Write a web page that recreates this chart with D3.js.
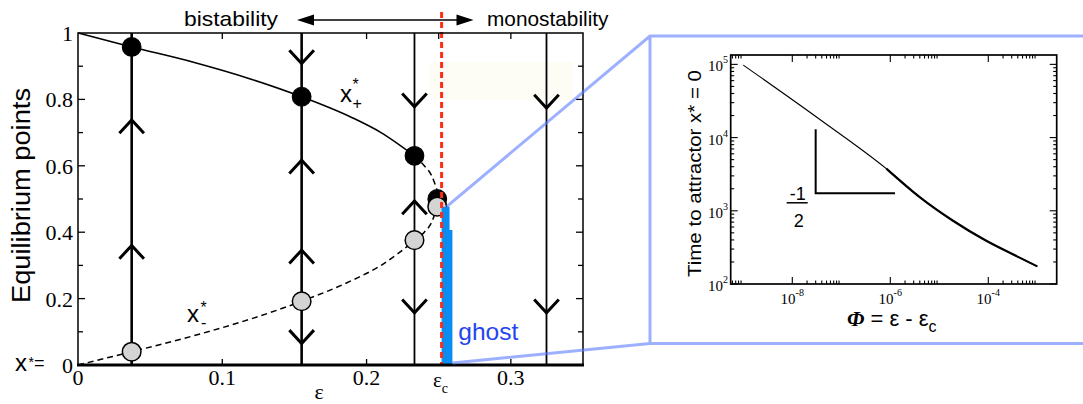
<!DOCTYPE html>
<html>
<head>
<meta charset="utf-8">
<script src="https://cdn.jsdelivr.net/npm/d3@7"></script>
<style>
  body { margin: 0; background: #fff; }
  svg { display: block; }
</style>
</head>
<body>
<div id="chart"></div>
<script>
// ---- values ----
// main panel: stable branch x*+ (solid, then dashed near the fold) and unstable branch x*-
var upperEps = [0, 0.0372, 0.08, 0.12, 0.155, 0.19, 0.21, 0.2332];
var upperX = [1, 0.958, 0.912, 0.861, 0.808, 0.745, 0.70, 0.63];
var upperDashEps = [0.2332, 0.24, 0.245, 0.249];
var upperDashX = [0.63, 0.60, 0.571, 0.525];
var lowerEps = [0, 0.0372, 0.08, 0.12, 0.155, 0.19, 0.21, 0.2332, 0.24, 0.245, 0.249];
var lowerX = [0, 0.04, 0.088, 0.139, 0.192, 0.255, 0.30, 0.375, 0.40, 0.429, 0.477];

// vertical flow lines and the arrows on them
var flowEps = [0.0372, 0.155, 0.2332, 0.3247];
var arrowEps = [0.0372, 0.0372, 0.155, 0.155, 0.155, 0.155, 0.2332, 0.2332, 0.2332, 0.3247, 0.3247];
var arrowX = [0.738, 0.36, 0.908, 0.617, 0.346, 0.065, 0.778, 0.494, 0.157, 0.774, 0.157];
var arrowDir = ["up", "up", "down", "up", "up", "down", "down", "up", "down", "down", "down"];

// equilibrium points
var stableEps = [0.0372, 0.155, 0.2332, 0.249];
var stableX = [0.958, 0.808, 0.63, 0.50];
var unstableEps = [0.0372, 0.155, 0.2332, 0.249];
var unstableX = [0.04, 0.192, 0.376, 0.477];

// critical value and ghost bar
var epsC = 0.252;
var ghostEps = [0.252, 0.2575, 0.2595];
var ghostTop = [0.477, 0.407];

// main axes
var xTicks = [0, 0.1, 0.2, 0.3];
var xTickLabels = ["0", "0.1", "0.2", "0.3"];
var xTopTicks = [0.1, 0.2, 0.25, 0.3];
var yTicks = [0, 0.2, 0.4, 0.6, 0.8, 1];
var yTickLabels = ["0", "0.2", "0.4", "0.6", "0.8", "1"];
var yMinorTicks = [0.1, 0.3, 0.5, 0.7, 0.9];

// inset: time to reach x* = 0 vs phi = eps - eps_c
var phi = [1e-9, 3.66e-8, 8.3e-7, 3.98e-6, 1.87e-5, 8.9e-5, 4.25e-4, 1e-3];
var tAttr = [97700, 17660, 3760, 1535, 736, 392, 231, 174];
var insetXTicks = [1e-8, 1e-6, 1e-4];
var insetXExp = ["-8", "-6", "-4"];
var insetYTicks = [1e2, 1e3, 1e4, 1e5];
var insetYExp = ["2", "3", "4", "5"];
var slopePhi = [3.0e-8, 1.25e-6];
var slopeT = [12970, 1734];

// ---- drawing ----
var width = 1083;
var height = 404;
var sans = "'Liberation Sans', Arial, sans-serif";
var serif = "'Liberation Serif', 'Times New Roman', serif";

var svg = d3.select("#chart")
  .append("svg")
    .attr("width", width)
    .attr("height", height)
    .style("font-family", sans);

var x = d3.scaleLinear().domain([0, 0.35]).range([78, 583]);
var y = d3.scaleLinear().domain([0, 1]).range([365, 33]);

// faint highlight box
svg.append("rect")
  .attr("x", 430).attr("y", 62).attr("width", 143).attr("height", 38)
  .attr("fill", "#fdfdf6");

var line = d3.line()
  .x(function (d) { return x(d[0]); })
  .y(function (d) { return y(d[1]); })
  .curve(d3.curveMonotoneX);

svg.append("path")
  .datum(d3.zip(upperEps, upperX))
  .attr("d", line)
  .attr("fill", "none").attr("stroke", "#000").attr("stroke-width", 1.6);

svg.append("path")
  .datum(d3.zip(upperDashEps, upperDashX))
  .attr("d", line)
  .attr("fill", "none").attr("stroke", "#000").attr("stroke-width", 1.5)
  .attr("stroke-dasharray", "6,4");

svg.append("path")
  .datum(d3.zip(lowerEps, lowerX))
  .attr("d", line)
  .attr("fill", "none").attr("stroke", "#000").attr("stroke-width", 1.5)
  .attr("stroke-dasharray", "6,4");

// flow lines
svg.append("g")
  .selectAll("line")
  .data(flowEps)
  .enter()
  .append("line")
    .attr("x1", d => x(d)).attr("x2", d => x(d))
    .attr("y1", y(1)).attr("y2", y(0))
    .attr("stroke", "#000")
    .attr("stroke-width", (d, i) => i < 2 ? 2.6 : 1.8);

// chevrons
var arrows = d3.range(arrowEps.length).map(i => ({ e: arrowEps[i], v: arrowX[i], dir: arrowDir[i] }));
svg.append("g")
  .selectAll("path")
  .data(arrows)
  .enter()
  .append("path")
    .attr("d", function (d) {
      var cx = x(d.e), cy = y(d.v), s = d.dir === "up" ? 13.3 : -13.3;
      return "M" + (cx - 12.3) + "," + (cy + s) + "L" + cx + "," + cy + "L" + (cx + 12.3) + "," + (cy + s);
    })
    .attr("fill", "none").attr("stroke", "#000").attr("stroke-width", 3);

// equilibrium points
svg.append("g")
  .selectAll("circle")
  .data(d3.zip(stableEps, stableX))
  .enter()
  .append("circle")
    .attr("cx", d => x(d[0])).attr("cy", d => y(d[1])).attr("r", 9.3)
    .attr("fill", "#000").attr("stroke", "#000").attr("stroke-width", 1.2);

svg.append("g")
  .selectAll("circle")
  .data(d3.zip(unstableEps, unstableX))
  .enter()
  .append("circle")
    .attr("cx", d => x(d[0])).attr("cy", d => y(d[1])).attr("r", 9.3)
    .attr("fill", "#d4d4d4").attr("stroke", "#000").attr("stroke-width", 1.5);

// ghost bar
svg.append("path")
  .attr("d", "M" + x(ghostEps[0]) + "," + y(0) +
    "L" + x(ghostEps[0]) + "," + y(ghostTop[0]) +
    "L" + x(ghostEps[1]) + "," + y(ghostTop[0]) +
    "L" + x(ghostEps[1]) + "," + y(ghostTop[1]) +
    "L" + x(ghostEps[2]) + "," + y(ghostTop[1]) +
    "L" + x(ghostEps[2]) + "," + y(0) + "Z")
  .attr("fill", "#0a8df2");

// critical line
svg.append("line")
  .attr("x1", x(epsC)).attr("x2", x(epsC))
  .attr("y1", 12).attr("y2", y(0))
  .attr("stroke", "#ff2b14").attr("stroke-width", 3)
  .attr("stroke-dasharray", "6,4");

// frame
svg.append("path")
  .attr("d", "M" + x(0) + "," + y(0) + "V" + y(1) + "H" + x(0.35) + "V" + y(0))
  .attr("fill", "none").attr("stroke", "#000").attr("stroke-width", 1.5);
svg.append("line")
  .attr("x1", x(0) - 1).attr("x2", x(0.35) + 1)
  .attr("y1", y(0)).attr("y2", y(0))
  .attr("stroke", "#000").attr("stroke-width", 3.2);

// ticks
var tk = svg.append("g").attr("stroke", "#000").attr("stroke-width", 1.3);
yTicks.slice(1, -1).forEach(function (v) {
  tk.append("line").attr("x1", x(0)).attr("x2", x(0) + 7).attr("y1", y(v)).attr("y2", y(v));
  tk.append("line").attr("x1", x(0.35) - 7).attr("x2", x(0.35)).attr("y1", y(v)).attr("y2", y(v));
});
yMinorTicks.forEach(function (v) {
  tk.append("line").attr("x1", x(0)).attr("x2", x(0) + 5).attr("y1", y(v)).attr("y2", y(v));
  tk.append("line").attr("x1", x(0.35) - 5).attr("x2", x(0.35)).attr("y1", y(v)).attr("y2", y(v));
});
xTicks.slice(1).forEach(function (v) {
  tk.append("line").attr("x1", x(v)).attr("x2", x(v)).attr("y1", y(0)).attr("y2", y(0) - 6);
});
xTopTicks.forEach(function (v) {
  tk.append("line").attr("x1", x(v)).attr("x2", x(v)).attr("y1", y(1)).attr("y2", y(1) + 6);
});

// tick labels
svg.append("g")
  .selectAll("text")
  .data(yTicks)
  .enter()
  .append("text")
    .attr("x", 73).attr("y", d => y(d) + 8)
    .attr("text-anchor", "end")
    .style("font-family", serif).style("font-size", "22px")
    .text((d, i) => yTickLabels[i]);

svg.append("g")
  .selectAll("text")
  .data(xTicks)
  .enter()
  .append("text")
    .attr("x", d => x(d)).attr("y", 385)
    .attr("text-anchor", "middle")
    .style("font-family", serif).style("font-size", "22px")
    .text((d, i) => xTickLabels[i]);

var ec = svg.append("text")
  .attr("x", 433).attr("y", 387)
  .style("font-family", serif).style("font-size", "21px");
ec.append("tspan").text("ε");
ec.append("tspan").attr("dy", 6).style("font-size", "14px").text("c");

svg.append("text")
  .attr("x", 319).attr("y", 399).attr("text-anchor", "middle")
  .style("font-family", serif).style("font-size", "22px")
  .text("ε");

svg.append("text")
  .attr("transform", "translate(30,195.5) rotate(-90)")
  .attr("text-anchor", "middle")
  .attr("textLength", 215).attr("lengthAdjust", "spacingAndGlyphs")
  .style("font-size", "25px")
  .text("Equilibrium points");

// x* = 0 label
svg.append("text").attr("x", 15).attr("y", 370.7).style("font-size", "24px").text("x");
svg.append("text").attr("x", 28.5).attr("y", 367).style("font-size", "14px").text("*");
svg.append("text").attr("x", 34).attr("y", 369).style("font-size", "18px").text("=");

// branch labels
svg.append("text").attr("x", 340).attr("y", 101.7).style("font-size", "24px").text("x");
svg.append("text").attr("x", 352.5).attr("y", 89.5).style("font-size", "16px").text("*");
svg.append("text").attr("x", 352.5).attr("y", 109).style("font-size", "16px").text("+");
svg.append("text").attr("x", 187).attr("y", 321.7).style("font-size", "24px").text("x");
svg.append("text").attr("x", 200.5).attr("y", 313).style("font-size", "16px").text("*");
svg.append("text").attr("x", 201).attr("y", 328).style("font-size", "16px").text("-");

svg.append("text")
  .attr("x", 458.3).attr("y", 340)
  .attr("textLength", 60).attr("lengthAdjust", "spacingAndGlyphs")
  .style("font-size", "24px").attr("fill", "#1f45ee")
  .text("ghost");

// bistability / monostability header
svg.append("text")
  .attr("x", 184).attr("y", 26)
  .attr("textLength", 94).attr("lengthAdjust", "spacingAndGlyphs")
  .style("font-size", "21px").text("bistability");
svg.append("text")
  .attr("x", 487).attr("y", 26)
  .attr("textLength", 121.5).attr("lengthAdjust", "spacingAndGlyphs")
  .style("font-size", "21px").text("monostability");
svg.append("line")
  .attr("x1", 305).attr("x2", 465).attr("y1", 20).attr("y2", 20)
  .attr("stroke", "#000").attr("stroke-width", 1.6);
svg.append("path").attr("d", "M297,20L314,14.5L314,25.5Z").attr("fill", "#000");
svg.append("path").attr("d", "M473.5,20L456.5,14.5L456.5,25.5Z").attr("fill", "#000");

// ---- zoom box ----
var boxX = 650, boxTop = 36, boxBot = 343.5;
svg.append("path")
  .attr("d",
    "M" + x(0.2555) + "," + y(ghostTop[0]) + "L" + boxX + "," + boxTop + "L" + width + "," + boxTop +
    "M" + x(ghostEps[2]) + "," + (y(0) - 2) + "L" + boxX + "," + boxBot + "L" + width + "," + boxBot +
    "M" + boxX + "," + boxTop + "L" + boxX + "," + boxBot)
  .attr("fill", "none")
  .attr("stroke", "#5b7cff").attr("stroke-opacity", 0.6).attr("stroke-width", 3);

// ---- inset ----
var ix = d3.scaleLog().domain([Math.pow(10, -9.257), Math.pow(10, -2.604)]).range([730.7, 1056.7]);
var iy = d3.scaleLog().domain([100, Math.pow(10, 5.128)]).range([284, 55]);
var ix0 = 730.7, ix1 = 1056.7, iy0 = 284, iy1 = 55;

var itk = svg.append("g").attr("stroke", "#000").attr("stroke-width", 1.1);
ix.ticks().forEach(function (v) {
  var e = Math.floor(Math.log10(v) + 1e-9);
  if (e % 2 !== 0) return;
  var major = Math.abs(v / Math.pow(10, e) - 1) < 1e-6;
  var len = major ? 7 : 3.5;
  itk.append("line").attr("x1", ix(v)).attr("x2", ix(v)).attr("y1", iy0).attr("y2", iy0 - len);
  itk.append("line").attr("x1", ix(v)).attr("x2", ix(v)).attr("y1", iy1).attr("y2", iy1 + len);
});
iy.ticks().forEach(function (v) {
  var e = Math.floor(Math.log10(v) + 1e-9);
  var major = Math.abs(v / Math.pow(10, e) - 1) < 1e-6;
  var len = major ? 7 : 3.5;
  itk.append("line").attr("x1", ix0).attr("x2", ix0 + len).attr("y1", iy(v)).attr("y2", iy(v));
  itk.append("line").attr("x1", ix1 - len).attr("x2", ix1).attr("y1", iy(v)).attr("y2", iy(v));
});

svg.append("rect")
  .attr("x", ix0).attr("y", iy1).attr("width", ix1 - ix0).attr("height", iy0 - iy1)
  .attr("fill", "none").attr("stroke", "#000").attr("stroke-width", 1.7);

var iline = d3.line()
  .x(d => ix(d[0]))
  .y(d => iy(d[1]))
  .curve(d3.curveMonotoneX);
var ipts = d3.zip(phi, tAttr);
svg.append("path").datum(ipts).attr("d", iline)
  .attr("fill", "none").attr("stroke", "#000").attr("stroke-width", 1.1);
svg.append("path").datum(ipts.slice(2)).attr("d", iline)
  .attr("fill", "none").attr("stroke", "#000").attr("stroke-width", 2.2);

// slope triangle
svg.append("path")
  .attr("d", "M" + ix(slopePhi[0]) + "," + iy(slopeT[0]) + "V" + iy(slopeT[1]) + "H" + ix(slopePhi[1]))
  .attr("fill", "none").attr("stroke", "#000").attr("stroke-width", 2);
svg.append("text")
  .attr("x", ix(slopePhi[0]) - 18).attr("y", iy(slopeT[1]) + 7).attr("text-anchor", "middle")
  .style("font-size", "18px").text("-1");
svg.append("line")
  .attr("x1", ix(slopePhi[0]) - 29).attr("x2", ix(slopePhi[0]) - 8)
  .attr("y1", iy(slopeT[1]) + 9.5).attr("y2", iy(slopeT[1]) + 9.5)
  .attr("stroke", "#000").attr("stroke-width", 1.5);
svg.append("text")
  .attr("x", ix(slopePhi[0]) - 17).attr("y", iy(slopeT[1]) + 34).attr("text-anchor", "middle")
  .style("font-size", "18px").text("2");

// inset tick labels
insetXTicks.forEach(function (v, i) {
  var t = svg.append("text")
    .attr("x", ix(v)).attr("y", 304).attr("text-anchor", "middle")
    .style("font-family", serif).style("font-size", "15px");
  t.append("tspan").text("10");
  t.append("tspan").attr("dy", -8).style("font-size", "10px").text(insetXExp[i]);
});
insetYTicks.forEach(function (v, i) {
  var t = svg.append("text")
    .attr("x", 728).attr("y", iy(v) + 7).attr("text-anchor", "end")
    .style("font-family", serif).style("font-size", "15px");
  t.append("tspan").text("10");
  t.append("tspan").attr("dy", -8).style("font-size", "10px").text(insetYExp[i]);
});

// inset axis titles
svg.append("text")
  .attr("transform", "translate(701,173.5) rotate(-90)")
  .attr("text-anchor", "middle")
  .attr("textLength", 207).attr("lengthAdjust", "spacingAndGlyphs")
  .style("font-size", "19px")
  .text("Time to attractor  x* = 0");

var xt = svg.append("text").attr("x", 847).attr("y", 326).style("font-size", "22px");
xt.append("tspan").style("font-family", serif).style("font-style", "italic").style("font-weight", "bold").text("Φ");
xt.append("tspan").text(" = ε - ε");
xt.append("tspan").attr("dy", 6).style("font-size", "16px").text("c");
</script>
</body>
</html>
